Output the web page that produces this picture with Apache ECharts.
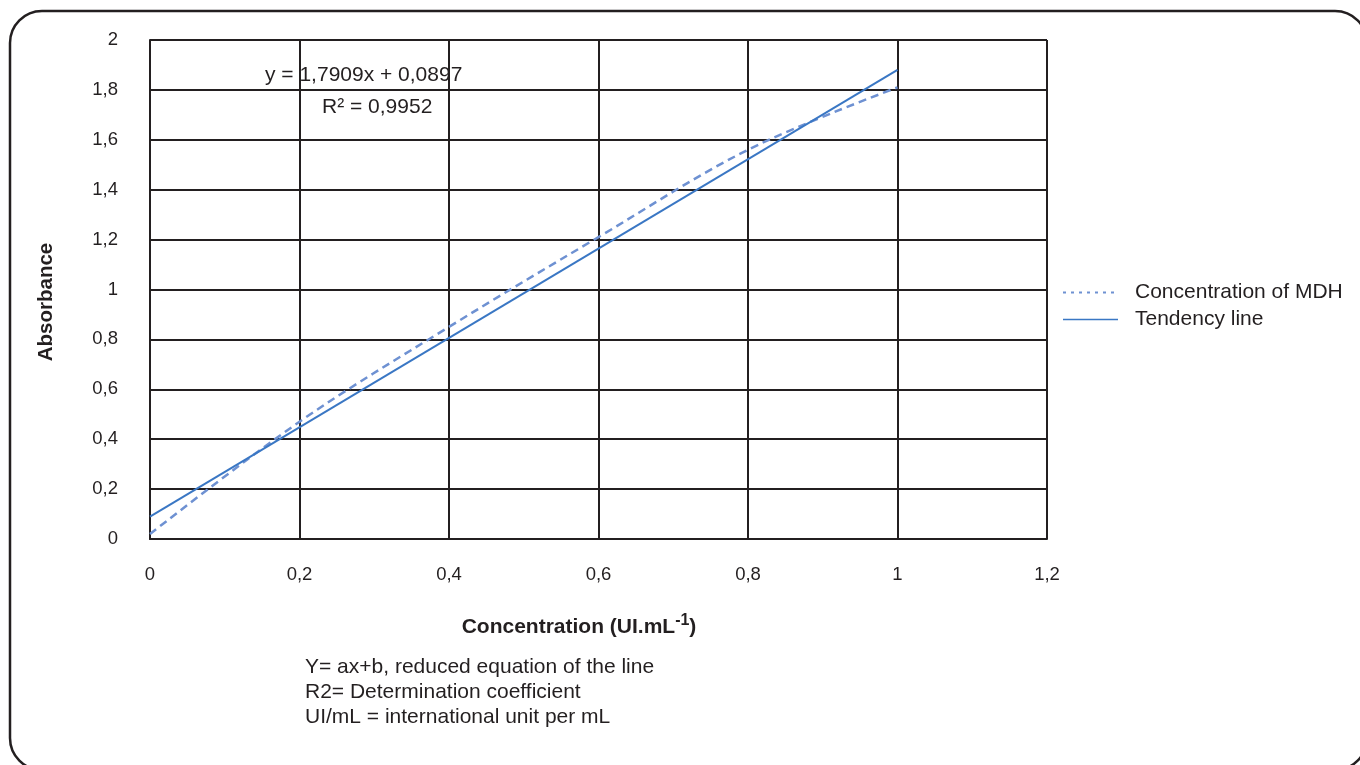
<!DOCTYPE html>
<html>
<head>
<meta charset="utf-8">
<script src="https://cdn.jsdelivr.net/npm/echarts@6/dist/echarts.min.js"></script>
<style>
  html, body { margin: 0; padding: 0; background: #fff; }
  #chart { width: 1360px; height: 765px; }
</style>
</head>
<body>
<div id="chart"></div>
<script>
// measured points (concentration UI/mL -> absorbance)
const concentration = [0, 0.2, 0.4, 0.6, 0.8, 1]
const absorbance = [0.02, 0.47, 0.85, 1.21, 1.56, 1.81]

// linear fit y = 1,7909x + 0,0897
const slope = 1.7909
const intercept = 0.0897
const trendX = [0, 1]

const xTicks = { min: 0, max: 1.2, interval: 0.2 }
const yTicks = { min: 0, max: 2, interval: 0.2 }

const footnotes = [
    'Y= ax+b, reduced equation of the line',
    'R2= Determination coefficient',
    'UI/mL = international unit per mL'
]

const ink = '#231f20'
const font = '"Liberation Sans", Arial, sans-serif'
const comma = v => String(+v.toFixed(2)).replace('.', ',')

const chart = echarts.init(document.getElementById('chart'))

const option = {
    animation: false,
    textStyle: { fontFamily: font, color: ink },
    grid: { left: 150, top: 40, width: 897, height: 499 },
    legend: {
        orient: 'vertical',
        left: 1057,
        top: 277,
        itemWidth: 55,
        itemHeight: 14,
        itemGap: 6,
        itemStyle: { opacity: 0 },
        textStyle: { fontSize: 21, color: ink, fontFamily: font, padding: [0, 0, 0, 12] },
        data: [
            { name: 'Concentration of MDH', lineStyle: { type: [3, 5], width: 2 } },
            { name: 'Tendency line', lineStyle: { width: 1.5 } }
        ]
    },
    xAxis: {
        type: 'value',
        min: xTicks.min, max: xTicks.max, interval: xTicks.interval,
        axisLine: { show: true, lineStyle: { color: ink, width: 2 } },
        axisTick: { show: false },
        axisLabel: { fontSize: 18.5, color: ink, margin: 26, formatter: comma },
        splitLine: { show: true, lineStyle: { color: ink, width: 2 } }
    },
    yAxis: {
        type: 'value',
        min: yTicks.min, max: yTicks.max, interval: yTicks.interval,
        axisLine: { show: true, lineStyle: { color: ink, width: 2 } },
        axisTick: { show: false },
        axisLabel: { fontSize: 18.5, color: ink, margin: 32, formatter: comma },
        splitLine: { show: true, lineStyle: { color: ink, width: 2 } }
    },
    series: [
        {
            name: 'Concentration of MDH',
            type: 'line',
            smooth: 0.35,
            symbol: 'none',
            color: '#6e91d2',
            lineStyle: { color: '#6e91d2', width: 2.5, type: [8, 5] },
            data: concentration.map((x, i) => [x, absorbance[i]]),
            z: 3
        },
        {
            name: 'Tendency line',
            type: 'line',
            symbol: 'none',
            color: '#3a77c4',
            lineStyle: { color: '#3a77c4', width: 2 },
            data: trendX.map(x => [x, slope * x + intercept]),
            z: 4
        }
    ],
    graphic: [
        {
            type: 'rect',
            shape: { x: 10, y: 11, width: 1357, height: 759, r: 32 },
            style: { fill: 'none', stroke: ink, lineWidth: 2.5 },
            silent: true
        },
        {
            type: 'text', x: 265, y: 75,
            style: { text: 'y = 1,7909x + 0,0897', fontSize: 21, fontFamily: font, fill: ink, verticalAlign: 'middle' }
        },
        {
            type: 'text', x: 322, y: 107,
            style: { text: 'R² = 0,9952', fontSize: 21, fontFamily: font, fill: ink, verticalAlign: 'middle' }
        },
        {
            type: 'text', x: 579, y: 627,
            style: {
                text: '{b|Concentration (UI.mL}{s|-1}{b|)}',
                align: 'center', verticalAlign: 'middle',
                rich: {
                    b: { fontSize: 21, fontWeight: 'bold', fill: ink, fontFamily: font },
                    s: { fontSize: 16, fontWeight: 'bold', fill: ink, fontFamily: font, verticalAlign: 'top', padding: [0, 0, 12, 0] }
                }
            }
        },
        {
            type: 'text', x: 46, y: 302, rotation: Math.PI / 2,
            style: {
                text: 'Absorbance', fontSize: 20.5, fontWeight: 'bold', fontFamily: font, fill: ink,
                align: 'center', verticalAlign: 'middle'
            }
        },
        ...footnotes.map((t, i) => ({
            type: 'text', x: 305, y: 667 + i * 25,
            style: { text: t, fontSize: 21, fontFamily: font, fill: ink, verticalAlign: 'middle' }
        }))
    ]
}

chart.setOption(option)
</script>
</body>
</html>
